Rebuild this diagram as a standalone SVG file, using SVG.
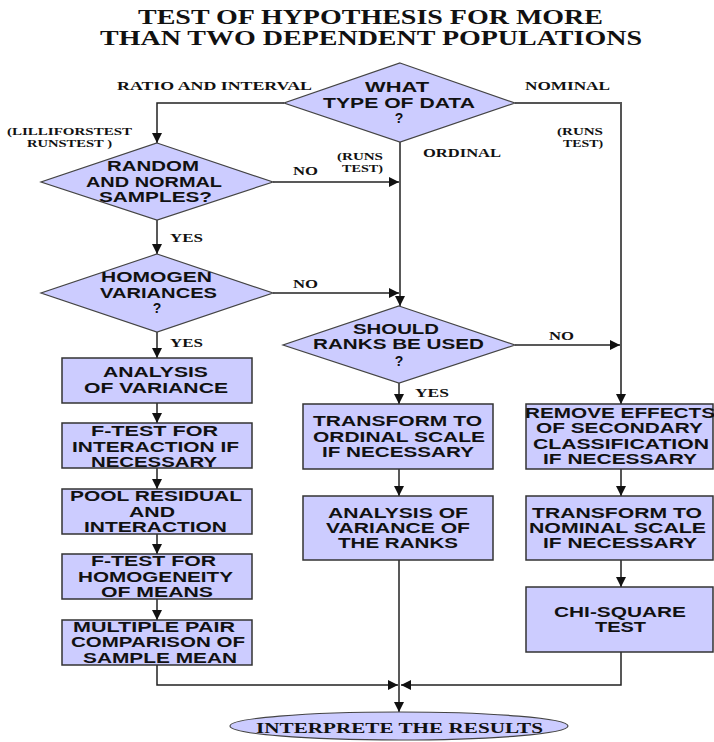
<svg xmlns="http://www.w3.org/2000/svg" width="714" height="742" viewBox="0 0 714 742">
<style>
.shape{fill:#ccccff;stroke:#444;stroke-width:1.2}
.box{fill:#ccccff;stroke:#333;stroke-width:1.5}
.t{font-family:"Liberation Sans",Arial,sans-serif;font-weight:bold;font-size:14px;fill:#111;text-anchor:middle}
.s{font-family:"Liberation Serif","Times New Roman",serif;font-weight:bold;font-size:12px;fill:#111;text-anchor:middle}
.sm{font-family:"Liberation Serif","Times New Roman",serif;font-weight:bold;font-size:10px;fill:#111;text-anchor:middle}
.title{font-family:"Liberation Serif","Times New Roman",serif;font-weight:bold;font-size:20px;fill:#111;text-anchor:middle}
.c{fill:none;stroke:#222;stroke-width:1.5}
.g{fill:none;stroke:#555;stroke-width:2}
</style>
<defs>
<marker id="arr" markerUnits="userSpaceOnUse" viewBox="0 0 10 10" refX="10" refY="5" markerWidth="10" markerHeight="10" orient="auto">
<path d="M0,0 L10,5 L0,10 z" fill="#111"/>
</marker>
</defs>
<rect width="714" height="742" fill="#fff"/>
<g id="title">
<text class="title" x="370.5" y="24" textLength="465" lengthAdjust="spacingAndGlyphs">TEST OF HYPOTHESIS FOR MORE</text>
<text class="title" x="371" y="45" textLength="542" lengthAdjust="spacingAndGlyphs">THAN TWO DEPENDENT POPULATIONS</text>
</g>
<g id="connectors">
<path class="c" d="M284,103 H157 V143" marker-end="url(#arr)"/>
<path class="g" d="M515,103 H621 V404" marker-end="url(#arr)"/>
<path class="c" d="M400,142 V306" marker-end="url(#arr)"/>
<path class="c" d="M273,182 H399" marker-end="url(#arr)"/>
<path class="c" d="M157,220 V254" marker-end="url(#arr)"/>
<path class="c" d="M273,293 H399" marker-end="url(#arr)"/>
<path class="c" d="M157,332 V358" marker-end="url(#arr)"/>
<path class="c" d="M515,345 H620" marker-end="url(#arr)"/>
<path class="c" d="M399,383 V404" marker-end="url(#arr)"/>
<path class="c" d="M157,403 V423" marker-end="url(#arr)"/>
<path class="c" d="M157,468 V489" marker-end="url(#arr)"/>
<path class="c" d="M157,534 V554" marker-end="url(#arr)"/>
<path class="c" d="M157,599 V620" marker-end="url(#arr)"/>
<path class="c" d="M399,469 V496" marker-end="url(#arr)"/>
<path class="g" d="M621,469 V496" marker-end="url(#arr)"/>
<path class="g" d="M621,560 V587" marker-end="url(#arr)"/>
<path class="c" d="M157,665 V685 H398" marker-end="url(#arr)"/>
<path class="c" d="M399,560 V712" marker-end="url(#arr)"/>
<path class="c" d="M621,652 V685 H401" marker-end="url(#arr)"/>
</g>
<g id="labels">
<text class="s" x="214.5" y="90" textLength="195" lengthAdjust="spacingAndGlyphs">RATIO AND INTERVAL</text>
<text class="s" x="567.5" y="90" textLength="85" lengthAdjust="spacingAndGlyphs">NOMINAL</text>
<text class="sm" x="69.5" y="135" textLength="125" lengthAdjust="spacingAndGlyphs">(LILLIFORSTEST</text>
<text class="sm" x="69.5" y="147" textLength="85" lengthAdjust="spacingAndGlyphs">RUNSTEST )</text>
<text class="sm" x="580" y="135" textLength="46" lengthAdjust="spacingAndGlyphs">(RUNS</text>
<text class="sm" x="583" y="147" textLength="40" lengthAdjust="spacingAndGlyphs">TEST)</text>
<text class="s" x="462" y="157" textLength="78" lengthAdjust="spacingAndGlyphs">ORDINAL</text>
<text class="sm" x="360" y="160" textLength="46" lengthAdjust="spacingAndGlyphs">(RUNS</text>
<text class="sm" x="362.5" y="172" textLength="41" lengthAdjust="spacingAndGlyphs">TEST)</text>
<text class="s" x="305.5" y="175" textLength="25" lengthAdjust="spacingAndGlyphs">NO</text>
<text class="s" x="305.5" y="288" textLength="25" lengthAdjust="spacingAndGlyphs">NO</text>
<text class="s" x="561.5" y="340" textLength="25" lengthAdjust="spacingAndGlyphs">NO</text>
<text class="s" x="186.5" y="242" textLength="33" lengthAdjust="spacingAndGlyphs">YES</text>
<text class="s" x="186.5" y="347" textLength="33" lengthAdjust="spacingAndGlyphs">YES</text>
<text class="s" x="432" y="397" textLength="34" lengthAdjust="spacingAndGlyphs">YES</text>
</g>
<g id="what-type">
<polygon class="shape" points="400,63 515,103 400,142 284,103"/>
<text class="t" x="397" y="92" textLength="64" lengthAdjust="spacingAndGlyphs">WHAT</text>
<text class="t" x="399" y="108" textLength="152" lengthAdjust="spacingAndGlyphs">TYPE OF DATA</text>
<text class="t" x="399" y="123">?</text>
</g>
<g id="random-normal">
<polygon class="shape" points="157,143 273,182 157,220 41,182"/>
<text class="t" x="153" y="171" textLength="92" lengthAdjust="spacingAndGlyphs">RANDOM</text>
<text class="t" x="154" y="187" textLength="136" lengthAdjust="spacingAndGlyphs">AND NORMAL</text>
<text class="t" x="155.5" y="202" textLength="113" lengthAdjust="spacingAndGlyphs">SAMPLES?</text>
</g>
<g id="homogen">
<polygon class="shape" points="157,254 273,293 157,332 41,293"/>
<text class="t" x="156.5" y="282" textLength="111" lengthAdjust="spacingAndGlyphs">HOMOGEN</text>
<text class="t" x="158.5" y="298" textLength="117" lengthAdjust="spacingAndGlyphs">VARIANCES</text>
<text class="t" x="157" y="313">?</text>
</g>
<g id="ranks">
<polygon class="shape" points="399,306 515,345 399,383 283,345"/>
<text class="t" x="396" y="334" textLength="86" lengthAdjust="spacingAndGlyphs">SHOULD</text>
<text class="t" x="398.5" y="349" textLength="171" lengthAdjust="spacingAndGlyphs">RANKS BE USED</text>
<text class="t" x="399" y="366">?</text>
</g>
<g id="anova">
<rect class="box" x="62" y="358" width="190" height="45"/>
<text class="t" x="155.5" y="377" textLength="105" lengthAdjust="spacingAndGlyphs">ANALYSIS</text>
<text class="t" x="156" y="393" textLength="144" lengthAdjust="spacingAndGlyphs">OF VARIANCE</text>
</g>
<g id="ftest-interaction">
<rect class="box" x="62" y="423" width="190" height="45"/>
<text class="t" x="154.5" y="436" textLength="127" lengthAdjust="spacingAndGlyphs">F-TEST FOR</text>
<text class="t" x="155.5" y="452" textLength="167" lengthAdjust="spacingAndGlyphs">INTERACTION IF</text>
<text class="t" x="154" y="467" textLength="126" lengthAdjust="spacingAndGlyphs">NECESSARY</text>
</g>
<g id="pool">
<rect class="box" x="62" y="489" width="190" height="45"/>
<text class="t" x="156" y="501" textLength="172" lengthAdjust="spacingAndGlyphs">POOL RESIDUAL</text>
<text class="t" x="152" y="517" textLength="46" lengthAdjust="spacingAndGlyphs">AND</text>
<text class="t" x="155.5" y="532" textLength="143" lengthAdjust="spacingAndGlyphs">INTERACTION</text>
</g>
<g id="ftest-means">
<rect class="box" x="62" y="554" width="190" height="45"/>
<text class="t" x="153.5" y="566" textLength="125" lengthAdjust="spacingAndGlyphs">F-TEST FOR</text>
<text class="t" x="155.5" y="582" textLength="155" lengthAdjust="spacingAndGlyphs">HOMOGENEITY</text>
<text class="t" x="157" y="597" textLength="112" lengthAdjust="spacingAndGlyphs">OF MEANS</text>
</g>
<g id="multiple-pair">
<rect class="box" x="62" y="620" width="190" height="45"/>
<text class="t" x="154" y="632" textLength="162" lengthAdjust="spacingAndGlyphs">MULTIPLE PAIR</text>
<text class="t" x="158" y="647" textLength="174" lengthAdjust="spacingAndGlyphs">COMPARISON OF</text>
<text class="t" x="160" y="663" textLength="154" lengthAdjust="spacingAndGlyphs">SAMPLE MEAN</text>
</g>
<g id="transform-ordinal">
<rect class="box" x="303" y="404" width="190" height="65"/>
<text class="t" x="397.5" y="426" textLength="169" lengthAdjust="spacingAndGlyphs">TRANSFORM TO</text>
<text class="t" x="399" y="442" textLength="172" lengthAdjust="spacingAndGlyphs">ORDINAL SCALE</text>
<text class="t" x="398" y="457" textLength="152" lengthAdjust="spacingAndGlyphs">IF NECESSARY</text>
</g>
<g id="anova-ranks">
<rect class="box" x="303" y="496" width="190" height="64"/>
<text class="t" x="398" y="518" textLength="140" lengthAdjust="spacingAndGlyphs">ANALYSIS OF</text>
<text class="t" x="398" y="533" textLength="144" lengthAdjust="spacingAndGlyphs">VARIANCE OF</text>
<text class="t" x="398" y="548" textLength="120" lengthAdjust="spacingAndGlyphs">THE RANKS</text>
</g>
<g id="remove-effects">
<rect class="box" x="526" y="404" width="187" height="65"/>
<text class="t" x="620" y="418" textLength="190" lengthAdjust="spacingAndGlyphs">REMOVE EFFECTS</text>
<text class="t" x="619.5" y="433" textLength="167" lengthAdjust="spacingAndGlyphs">OF SECONDARY</text>
<text class="t" x="621" y="449" textLength="176" lengthAdjust="spacingAndGlyphs">CLASSIFICATION</text>
<text class="t" x="620" y="464" textLength="154" lengthAdjust="spacingAndGlyphs">IF NECESSARY</text>
</g>
<g id="transform-nominal">
<rect class="box" x="526" y="496" width="187" height="64"/>
<text class="t" x="617" y="518" textLength="170" lengthAdjust="spacingAndGlyphs">TRANSFORM TO</text>
<text class="t" x="617.5" y="533" textLength="177" lengthAdjust="spacingAndGlyphs">NOMINAL SCALE</text>
<text class="t" x="620" y="548" textLength="154" lengthAdjust="spacingAndGlyphs">IF NECESSARY</text>
</g>
<g id="chi-square">
<rect class="box" x="526" y="587" width="187" height="65"/>
<text class="t" x="620" y="617" textLength="132" lengthAdjust="spacingAndGlyphs">CHI-SQUARE</text>
<text class="t" x="620.5" y="632" textLength="51" lengthAdjust="spacingAndGlyphs">TEST</text>
</g>
<g id="interprete">
<ellipse class="shape" cx="399" cy="726" rx="169" ry="14"/>
<text class="s" style="font-size:15px" x="399.5" y="733" textLength="287" lengthAdjust="spacingAndGlyphs">INTERPRETE THE RESULTS</text>
</g>
</svg>
